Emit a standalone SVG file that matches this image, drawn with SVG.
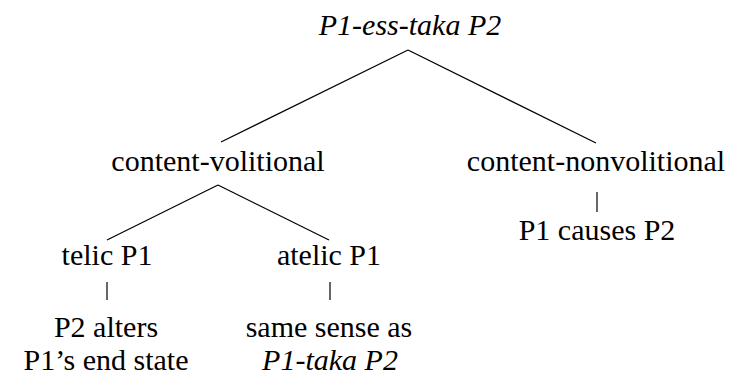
<svg xmlns="http://www.w3.org/2000/svg" width="740" height="376" viewBox="0 0 740 376">
<defs><style>line{stroke:#000;stroke-width:1.2}</style></defs>
<rect width="740" height="376" fill="#fff"/>
<g id="connectors">
<line x1="408" y1="50" x2="221" y2="142"/>
<line x1="408" y1="50" x2="596" y2="143"/>
<line x1="218" y1="185" x2="107" y2="240"/>
<line x1="218" y1="185" x2="329" y2="240"/>
<line x1="597" y1="192" x2="597" y2="212"/>
<line x1="107" y1="282" x2="107" y2="300"/>
<line x1="330" y1="282" x2="330" y2="300"/>
</g>
<g id="root"><text x="410" y="35" font-family="Liberation Serif" font-size="30" font-style="italic" text-anchor="middle">P1-ess-taka P2</text></g>
<g id="cv"><text x="218" y="171" font-family="Liberation Serif" font-size="30" text-anchor="middle">content-volitional</text></g>
<g id="cnv"><text x="596" y="171" font-family="Liberation Serif" font-size="30" text-anchor="middle">content-nonvolitional</text></g>
<g id="causes"><text x="597" y="240" font-family="Liberation Serif" font-size="30" text-anchor="middle">P1 causes P2</text></g>
<g id="telic"><text x="107" y="265" font-family="Liberation Serif" font-size="30" text-anchor="middle">telic P1</text></g>
<g id="atelic"><text x="329" y="265" font-family="Liberation Serif" font-size="30" text-anchor="middle">atelic P1</text></g>
<g id="alters"><text x="106" y="337" font-family="Liberation Serif" font-size="30" text-anchor="middle">P2 alters</text><text x="106" y="370" font-family="Liberation Serif" font-size="30" text-anchor="middle">P1’s end state</text></g>
<g id="same"><text x="329" y="337" font-family="Liberation Serif" font-size="30" text-anchor="middle">same sense as</text><text x="330" y="370" font-family="Liberation Serif" font-size="30" font-style="italic" text-anchor="middle">P1-taka P2</text></g>
</svg>
